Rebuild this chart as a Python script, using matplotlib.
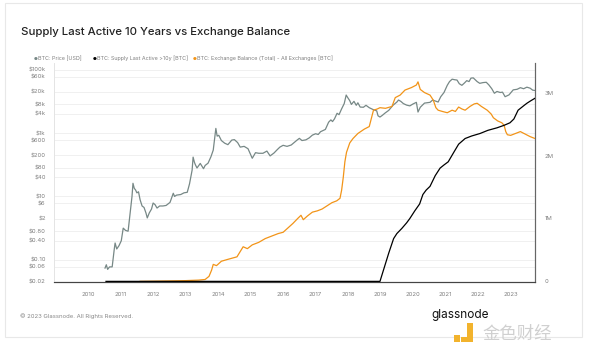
import numpy as np
import matplotlib.pyplot as plt
from matplotlib.patches import Rectangle
from matplotlib.ticker import FixedLocator, FixedFormatter, NullLocator

plt.rcParams['font.family'] = ['Inter', 'DejaVu Sans']

# BTC price (USD), x in fractional years
price_t = [2010.52, 2010.56, 2010.60, 2010.66, 2010.74, 2010.80, 2010.83, 2010.88, 2010.95, 2011.02,
           2011.08, 2011.15, 2011.23, 2011.30, 2011.35, 2011.38, 2011.42, 2011.46, 2011.50, 2011.55,
           2011.60, 2011.66, 2011.72, 2011.78, 2011.82, 2011.88, 2011.95, 2012.00, 2012.06, 2012.12,
           2012.20, 2012.30, 2012.40, 2012.52, 2012.62, 2012.66, 2012.72, 2012.85, 2012.95, 2013.05,
           2013.12, 2013.20, 2013.23, 2013.27, 2013.30, 2013.35, 2013.45, 2013.55, 2013.60, 2013.69,
           2013.78, 2013.85, 2013.90, 2013.93, 2013.97, 2014.02, 2014.10, 2014.20, 2014.30, 2014.42,
           2014.50, 2014.60, 2014.68, 2014.80, 2014.92, 2015.05, 2015.15, 2015.25, 2015.38, 2015.50,
           2015.60, 2015.72, 2015.82, 2015.90, 2016.00, 2016.12, 2016.25, 2016.43, 2016.50, 2016.58,
           2016.70, 2016.80, 2016.90, 2017.00, 2017.08, 2017.15, 2017.23, 2017.30, 2017.40, 2017.47,
           2017.52, 2017.58, 2017.66, 2017.72, 2017.80, 2017.88, 2017.94, 2017.98, 2018.05, 2018.10,
           2018.18, 2018.25, 2018.30, 2018.37, 2018.47, 2018.55, 2018.65, 2018.77, 2018.88, 2018.92,
           2018.98, 2019.05, 2019.14, 2019.25, 2019.38, 2019.50, 2019.55, 2019.62, 2019.70, 2019.80,
           2019.90, 2020.00, 2020.10, 2020.15, 2020.22, 2020.35, 2020.52, 2020.60, 2020.77, 2020.85,
           2020.95, 2021.05, 2021.12, 2021.20, 2021.28, 2021.35, 2021.42, 2021.50, 2021.58, 2021.65,
           2021.72, 2021.78, 2021.85, 2021.92, 2021.97, 2022.05, 2022.15, 2022.25, 2022.33, 2022.42,
           2022.50, 2022.58, 2022.68, 2022.75, 2022.83, 2022.95, 2023.08, 2023.20, 2023.30, 2023.40,
           2023.50, 2023.60, 2023.68, 2023.75]
price_usd = [0.055, 0.07, 0.05, 0.06, 0.06, 0.2, 0.34, 0.22, 0.28, 0.4,
             1.0, 0.85, 0.8, 3.5, 10, 26, 18, 16, 13, 14,
             7.8, 5, 4.5, 3, 2.1, 3, 4, 6.2, 5.5, 4.3,
             5, 5, 5.2, 6.5, 12.6, 10, 11, 11.5, 13, 13.5,
             25, 68, 174, 120, 100, 79, 110, 75, 95, 112,
             180, 290, 800, 1400, 800, 850, 580, 480, 430, 600,
             620, 500, 360, 380, 320, 160, 240, 230, 230, 270,
             190, 235, 300, 360, 410, 380, 420, 600, 680, 580,
             610, 700, 860, 950, 900, 1100, 1200, 1300, 2200, 2600,
             2300, 2800, 4200, 3800, 5800, 8500, 15800, 13500, 10500, 8000,
             10000, 7500, 9000, 6600, 6500, 7500, 6300, 5500, 5000, 3500,
             3200, 3600, 4300, 5200, 7500, 9500, 11000, 10000, 8500, 7600,
             7200, 8300, 9300, 4600, 6500, 8800, 9300, 11000, 9500, 14000,
             19000, 32000, 42000, 50000, 48000, 47000, 36000, 32000, 38000, 45000,
             42000, 54000, 55000, 47000, 42000, 37000, 39000, 40000, 33000, 25000,
             18000, 20500, 19000, 19500, 14000, 16000, 23000, 24000, 27000, 25000,
             28000, 26000, 22500, 22000]

# Exchange balance, million BTC
bal_t = [2011.60, 2012.00, 2012.60, 2013.00, 2013.40, 2013.60, 2013.72, 2013.80, 2013.85, 2013.95,
         2014.10, 2014.30, 2014.58, 2014.77, 2014.90, 2015.05, 2015.25, 2015.45, 2015.65, 2015.85,
         2016.00, 2016.15, 2016.30, 2016.45, 2016.55, 2016.62, 2016.75, 2016.90, 2017.05, 2017.20,
         2017.35, 2017.50, 2017.65, 2017.75, 2017.80, 2017.85, 2017.90, 2017.95, 2018.05, 2018.15,
         2018.30, 2018.50, 2018.65, 2018.72, 2018.78, 2018.90, 2018.98, 2019.15, 2019.35, 2019.45,
         2019.60, 2019.75, 2019.95, 2020.10, 2020.15, 2020.22, 2020.35, 2020.52, 2020.62, 2020.70,
         2020.77, 2020.90, 2021.05, 2021.20, 2021.30, 2021.40, 2021.50, 2021.60, 2021.75, 2021.88,
         2021.97, 2022.10, 2022.28, 2022.40, 2022.47, 2022.60, 2022.73, 2022.80, 2022.85, 2022.90,
         2023.00, 2023.15, 2023.30, 2023.45, 2023.60, 2023.75]
bal_m = [0.0, 0.003, 0.008, 0.012, 0.02, 0.03, 0.08, 0.18, 0.27, 0.25,
         0.32, 0.35, 0.39, 0.55, 0.52, 0.58, 0.62, 0.68, 0.72, 0.76,
         0.78, 0.85, 0.92, 1.0, 1.05, 0.98, 1.04, 1.1, 1.12, 1.15,
         1.2, 1.25, 1.28, 1.32, 1.45, 1.65, 1.9, 2.05, 2.2, 2.27,
         2.35, 2.42, 2.46, 2.6, 2.72, 2.74, 2.76, 2.75, 2.78, 2.92,
         2.96, 3.04, 3.08, 3.12, 3.17, 3.05, 3.0, 2.96, 2.88, 2.76,
         2.72, 2.70, 2.68, 2.72, 2.70, 2.77, 2.74, 2.72, 2.78, 2.82,
         2.83, 2.78, 2.72, 2.66, 2.60, 2.55, 2.52, 2.48, 2.38, 2.33,
         2.32, 2.35, 2.38, 2.34, 2.30, 2.27]

# Supply last active >10y, million BTC
old_t = [2010.55, 2018.98, 2019.10, 2019.25, 2019.40, 2019.50, 2019.65, 2019.80, 2019.90, 2020.05,
         2020.20, 2020.30, 2020.40, 2020.52, 2020.68, 2020.83, 2020.95, 2021.08, 2021.25, 2021.40,
         2021.60, 2021.80, 2022.06, 2022.30, 2022.58, 2022.80, 2022.98, 2023.10, 2023.23, 2023.40,
         2023.50, 2023.62, 2023.75]
old_m = [0, 0, 0.2, 0.45, 0.68, 0.76, 0.84, 0.93, 1.0, 1.12,
         1.23, 1.38, 1.45, 1.51, 1.68, 1.8, 1.85, 1.9, 2.05, 2.18,
         2.27, 2.31, 2.35, 2.4, 2.44, 2.48, 2.52, 2.58, 2.72, 2.79,
         2.83, 2.87, 2.91]

price_ticks = [100000, 60000, 20000, 8000, 4000, 1000, 600, 200, 80, 40, 10, 6, 2, 0.8, 0.4, 0.1, 0.06, 0.02]
price_labels = ['$100k', '$60k', '$20k', '$8k', '$4k', '$1k', '$600', '$200', '$80', '$40',
                '$10', '$6', '$2', '$0.80', '$0.40', '$0.10', '$0.06', '$0.02']
years = list(range(2010, 2024))
right_ticks = [0, 1, 2, 3]
right_labels = ['0', '1M', '2M', '3M']

GRAY = '#778886'
ORANGE = '#f29418'
TXT = '#808080'

fig = plt.figure(figsize=(6, 3.53), dpi=100)
W, H = 600, 353

# card outline
fig.patches.append(Rectangle((5 / W, 1 - 337 / H), 577 / W, 334 / H, transform=fig.transFigure,
                             fill=False, edgecolor='#e8e8e8', lw=0.8))

ax = fig.add_axes([54 / W, 1 - 282 / H, (535 - 54) / W, (282 - 63) / H])
ax.set_yscale('log')
ax.plot(price_t, price_usd, color=GRAY, lw=0.9, zorder=2)
ax.set_ylim(0.02, 162000)
ax.set_xlim(2008.95, 2023.75)
ax.yaxis.set_major_locator(FixedLocator(price_ticks))
ax.yaxis.set_major_formatter(FixedFormatter(price_labels))
ax.yaxis.set_minor_locator(NullLocator())
ax.set_xticks(years)
ax.set_xticklabels([str(y) for y in years])
ax.grid(axis='y', color='#eeeeee', lw=0.6)
ax.tick_params(axis='both', length=0, labelsize=4.3, colors=TXT)
ax.tick_params(axis='y', pad=6)
ax.tick_params(axis='x', pad=7)
ax.set_axisbelow(True)

ax2 = ax.twinx()
ax2.plot(bal_t, bal_m, color=ORANGE, lw=0.9, zorder=3)
ax2.plot(old_t, old_m, color='black', lw=0.9, zorder=4)
ax2.set_ylim(-0.01, 3.47)
ax2.set_yticks(right_ticks)
ax2.set_yticklabels(right_labels)
ax2.tick_params(axis='y', length=0, labelsize=4.3, colors=TXT, pad=7)

for a in (ax, ax2):
    a.spines['top'].set_visible(False)
    a.spines['left'].set_color('#e4e4e4')
    a.spines['left'].set_linewidth(0.6)
    a.spines['bottom'].set_color('#444444')
    a.spines['bottom'].set_linewidth(0.8)
    a.spines['right'].set_color('#666666')
    a.spines['right'].set_linewidth(0.8)

# title
fig.text(21 / W, 1 - 32 / H, 'Supply Last Active 10 Years vs Exchange Balance',
         fontsize=8.2, fontweight='medium', color='#222222', va='center')

# legend
legend_items = [(34, GRAY, 'BTC: Price [USD]'),
                (93, 'black', 'BTC: Supply Last Active >10y [BTC]'),
                (193, ORANGE, 'BTC: Exchange Balance (Total) - All Exchanges [BTC]')]
for x, c, t in legend_items:
    fig.text(x / W, 1 - 58.5 / H, '●', color=c, fontsize=3.2, va='center', ha='left',
             family=['DejaVu Sans'])
    fig.text((x + 4) / W, 1 - 58.5 / H, t, color=TXT, fontsize=3.9, va='center', ha='left')

# footer
fig.text(20 / W, 1 - 316 / H, '© 2023 Glassnode. All Rights Reserved.', fontsize=4.3,
         color='#888888', va='center')

# watermark
fig.text(431 / W, 1 - 315 / H, 'glassnode', fontsize=8.5, color='#111111', va='center')
gold = '#f2b32d'
fig.patches.append(Rectangle((454 / W, 1 - 342 / H), 6 / W, 7 / H, transform=fig.transFigure,
                             color=gold, lw=0))
fig.patches.append(Rectangle((467 / W, 1 - 342 / H), 6 / W, 19 / H, transform=fig.transFigure,
                             color=gold, lw=0))
fig.patches.append(Rectangle((461 / W, 1 - 342 / H), 12 / W, 5 / H, transform=fig.transFigure,
                             color=gold, lw=0))
fig.text(482 / W, 1 - 334 / H, '金色财经', fontsize=12.5, color='#d0d0d0', va='center',
         family=['Noto Sans CJK SC', 'DejaVu Sans'])

fig.savefig('out.png', dpi=100)
